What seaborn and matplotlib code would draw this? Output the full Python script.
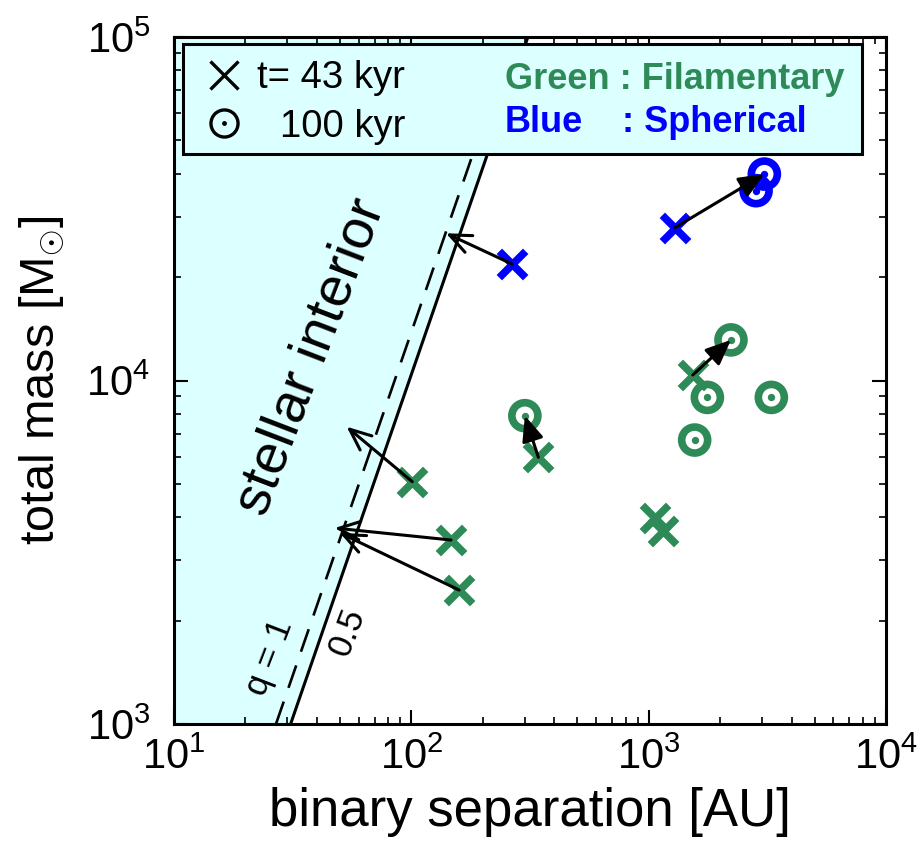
import matplotlib
matplotlib.use("Agg")
import matplotlib.pyplot as plt
import seaborn as sns
from matplotlib.patches import Rectangle
from matplotlib.ticker import LogLocator

sns.set_theme(style="ticks")
plt.rcParams['font.family'] = ['Liberation Sans', 'DejaVu Sans']
plt.rcParams['mathtext.fontset'] = 'custom'
plt.rcParams['mathtext.rm'] = 'Liberation Sans'
plt.rcParams['mathtext.it'] = 'Liberation Sans:italic'
plt.rcParams['mathtext.bf'] = 'Liberation Sans:bold'
for key in ('text.color', 'axes.labelcolor', 'xtick.color', 'ytick.color',
            'xtick.labelcolor', 'ytick.labelcolor'):
    plt.rcParams[key] = 'black'

GREEN = '#2e8b57'
BLUE = '#0000ff'
CYAN = '#dcffff'

# Binary separation [AU] and total mass [Msun] at t = 43 kyr
sep_43_fil = [101, 147, 159, 343, 1064, 1147, 1535]
mass_43_fil = [5075, 3433, 2455, 5976, 3972, 3647, 10380]
sep_43_sph = [266, 1291]
mass_43_sph = [21830, 27870]

# ... and at t = 100 kyr
sep_100_fil = [301, 2223, 1768, 3289, 1563]
mass_100_fil = [7900, 13130, 8930, 8930, 6710]
sep_100_sph = [3073, 2836]
mass_100_sph = [39900, 35700]

# Evolution of individual binaries (start -> end)
arrow_from_sep = [266, 1291, 343, 1535, 101, 147, 159]
arrow_from_mass = [21830, 27870, 5976, 10380, 5075, 3433, 2455]
arrow_to_sep = [140, 3073, 301, 2223, 53.4, 47.5, 50.0]
arrow_to_mass = [26830, 39900, 7900, 13130, 7337, 3720, 3600]
arrow_styles = ['->', '-|>', '-|>', '-|>', '->', '->', '->']

# Stellar-interior boundary for mass ratios q = 0.5 and q = 1
boundary_mass = [1e3, 1e5]
boundary_sep_q05 = [31.0, 310.0]
boundary_sep_q1 = [26.9, 269.0]

fig = plt.figure(figsize=(9.22, 8.49), dpi=100)
ax = fig.add_axes([0.1887, 0.1472, 0.7722, 0.8092])
ax.set_xscale('log')
ax.set_yscale('log')
ax.set_xlim(10, 1e4)
ax.set_ylim(1e3, 1e5)

# shaded stellar interior and boundary lines
ax.fill_betweenx(boundary_mass, 10, boundary_sep_q05, color=CYAN, lw=0, zorder=0)
ax.plot(boundary_sep_q05, boundary_mass, color='black', lw=2.2, zorder=1)
ax.plot(boundary_sep_q1, boundary_mass, color='black', lw=1.9,
        linestyle=(0, (9, 5.5)), zorder=1)

ax.text(0.1924, 0.5342, 'stellar interior', transform=ax.transAxes,
        rotation=69, rotation_mode='anchor', ha='center', va='center',
        fontsize=40, zorder=2)
ax.text(0.1348, 0.0975, 'q = 1', transform=ax.transAxes,
        rotation=69, rotation_mode='anchor', ha='center', va='center',
        fontsize=25, zorder=2)
ax.text(0.243, 0.134, '0.5', transform=ax.transAxes,
        rotation=69, rotation_mode='anchor', ha='center', va='center',
        fontsize=25, zorder=2)

# arrows
for xs, ys, xe, ye, st in zip(arrow_from_sep, arrow_from_mass,
                              arrow_to_sep, arrow_to_mass, arrow_styles):
    ax.annotate('', xy=(xe, ye), xytext=(xs, ys),
                arrowprops=dict(arrowstyle=st + ',head_length=0.7,head_width=0.3',
                                color='black', lw=2.2, mutation_scale=22,
                                shrinkA=0, shrinkB=0),
                zorder=4)

# t = 43 kyr markers
X_SIZE, X_LW = 360, 5.5
sns.scatterplot(x=sep_43_fil, y=mass_43_fil, marker='x', s=X_SIZE,
                color=GREEN, linewidth=X_LW, ax=ax, zorder=3)
sns.scatterplot(x=sep_43_sph, y=mass_43_sph, marker='x', s=X_SIZE,
                color=BLUE, linewidth=X_LW, ax=ax, zorder=3)

# t = 100 kyr markers (circle with central dot)
O_SIZE, O_LW, DOT_SIZE = 350, 5.5, 28
for xs, ys, col in [(sep_100_fil, mass_100_fil, GREEN),
                    (sep_100_sph, mass_100_sph, BLUE)]:
    sns.scatterplot(x=xs, y=ys, marker='o', s=O_SIZE, facecolor='none',
                    edgecolor=col, linewidth=O_LW, ax=ax, zorder=3)
    sns.scatterplot(x=xs, y=ys, marker='o', s=DOT_SIZE, color=col,
                    linewidth=0, ax=ax, zorder=3)

# key box
ax.add_patch(Rectangle((0.0126, 0.8292), 0.9534, 0.1606, transform=ax.transAxes,
                       facecolor=CYAN, edgecolor='black', lw=2.2, zorder=6))
ax.plot([0.0707], [0.9447], marker='x', ms=20, mew=2.4, color='black',
        transform=ax.transAxes, zorder=7, clip_on=False)
ax.plot([0.0707], [0.8744], marker='o', ms=19.5, mew=2.4, mfc='none',
        mec='black', transform=ax.transAxes, zorder=7, clip_on=False)
ax.plot([0.0707], [0.8744], marker='o', ms=3.5, mew=0, color='black',
        transform=ax.transAxes, zorder=7, clip_on=False)
ax.text(0.117, 0.9253, 't= 43 kyr', transform=ax.transAxes, fontsize=27.5,
        va='baseline', ha='left', zorder=7)
ax.text(0.1489, 0.8549, '100 kyr', transform=ax.transAxes, fontsize=27.5,
        va='baseline', ha='left', zorder=7)
ax.text(0.4649, 0.924, 'Green : Filamentary', transform=ax.transAxes,
        fontsize=26, fontweight='bold', color=GREEN, va='baseline',
        ha='left', zorder=7)
ax.text(0.4649, 0.862, 'Blue', transform=ax.transAxes, fontsize=26,
        fontweight='bold', color=BLUE, va='baseline', ha='left', zorder=7)
ax.text(0.6295, 0.862, ': Spherical', transform=ax.transAxes, fontsize=26,
        fontweight='bold', color=BLUE, va='baseline', ha='left', zorder=7)

# axes styling
ax.xaxis.set_major_locator(LogLocator(base=10, numticks=10))
ax.yaxis.set_major_locator(LogLocator(base=10, numticks=10))
ax.tick_params(which='both', direction='in', top=True, right=True,
               colors='black')
ax.tick_params(which='major', length=10, width=1.5, labelsize=30)
ax.tick_params(axis='x', which='major', pad=10)
ax.tick_params(axis='y', which='major', pad=17)
ax.tick_params(which='minor', length=5, width=1.2)
for sp in ax.spines.values():
    sp.set_linewidth(2.2)
    sp.set_color('black')
    sp.set_zorder(8)

ax.set_xlabel('binary separation [AU]', fontsize=38, labelpad=6)
ax.set_ylabel(r'total mass [M$_{\odot}$]', fontsize=35, labelpad=14)

fig.savefig('out.png', dpi=100)
